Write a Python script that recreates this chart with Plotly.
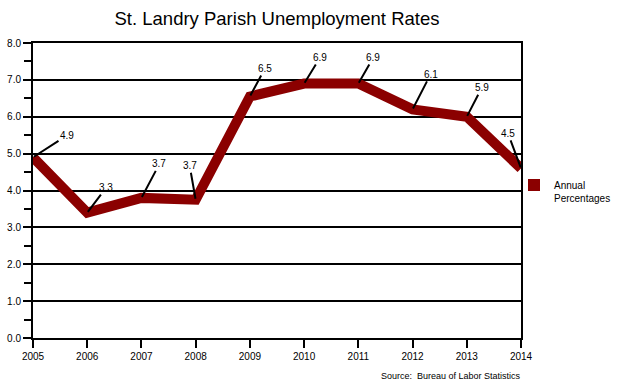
import plotly.graph_objects as go

years = [2005, 2006, 2007, 2008, 2009, 2010, 2011, 2012, 2013, 2014]
rates = [4.9, 3.4, 3.8, 3.75, 6.55, 6.9, 6.9, 6.2, 6.0, 4.6]
labels = ["4.9", "3.3", "3.7", "3.7", "6.5", "6.9", "6.9", "6.1", "5.9", "4.5"]
label_dx = [34, 19, 18, -6, 15, 16, 15, 18, 15, -13]
label_dy = [-22, -25, -34, -34, -28, -26, -26, -35, -29, -35]

FONT = "Liberation Sans, Arial, Helvetica, sans-serif"
RED = "#8B0000"

fig = go.Figure()
fig.add_trace(go.Scatter(x=years, y=rates, mode="lines",
                         line=dict(color=RED, width=10), showlegend=False,
                         hoverinfo="x+y"))
fig.add_trace(go.Scatter(x=[None], y=[None], mode="markers",
                         marker=dict(symbol="square", size=12, color=RED),
                         name="Annual<br>Percentages", showlegend=True))

for x, y, t, dx, dy in zip(years, rates, labels, label_dx, label_dy):
    fig.add_annotation(x=x, y=y, text=t, showarrow=True, arrowhead=0,
                       arrowwidth=2, arrowcolor="black", ax=dx, ay=dy,
                       standoff=1, font=dict(size=10, color="black", family=FONT))

fig.add_annotation(text="Source:  Bureau of Labor Statistics", xref="paper", yref="paper",
                   x=1.005, y=-0.129, xanchor="right", yanchor="middle", showarrow=False,
                   font=dict(size=9, color="black", family=FONT))

fig.update_layout(
    width=619, height=385,
    margin=dict(l=33, r=98, t=43, b=47, autoexpand=False),
    paper_bgcolor="white", plot_bgcolor="white",
    title=dict(text="St. Landry Parish Unemployment Rates", xref="paper", x=0.5,
               xanchor="center", yref="container", y=1 - 19 / 385, yanchor="middle",
               automargin=False,
               font=dict(size=18.5, color="black", family=FONT)),
    font=dict(family=FONT, color="black", size=10),
    legend=dict(xref="container", yref="container", x=514 / 619, y=1 - 172 / 385,
                xanchor="left", yanchor="top", valign="top",
                font=dict(size=10, color="black", family=FONT),
                bgcolor="rgba(0,0,0,0)", itemsizing="constant", itemwidth=30),
    xaxis=dict(range=[2005, 2014], tickmode="array", tickvals=years,
               ticktext=[str(y) for y in years], ticks="outside", ticklen=8,
               tickwidth=2, tickcolor="black", showgrid=False, zeroline=False,
               showline=True, linecolor="black", linewidth=2, mirror=True,
               automargin=False,
               tickfont=dict(size=10, color="black", family=FONT)),
    yaxis=dict(range=[0, 8], dtick=1, tickformat=".1f", ticks="outside", ticklen=8,
               tickwidth=2, tickcolor="black", showgrid=True, gridcolor="black",
               gridwidth=2, zeroline=False, showline=True, linecolor="black",
               linewidth=2, mirror=True, automargin=False,
               minor=dict(dtick=0.5, ticks="outside", ticklen=7, tickwidth=2,
                          tickcolor="black", showgrid=False),
               tickfont=dict(size=10, color="black", family=FONT)),
)

fig.write_html("out.html", config={"displayModeBar": False},
               post_script="document.body.style.margin='0';")
